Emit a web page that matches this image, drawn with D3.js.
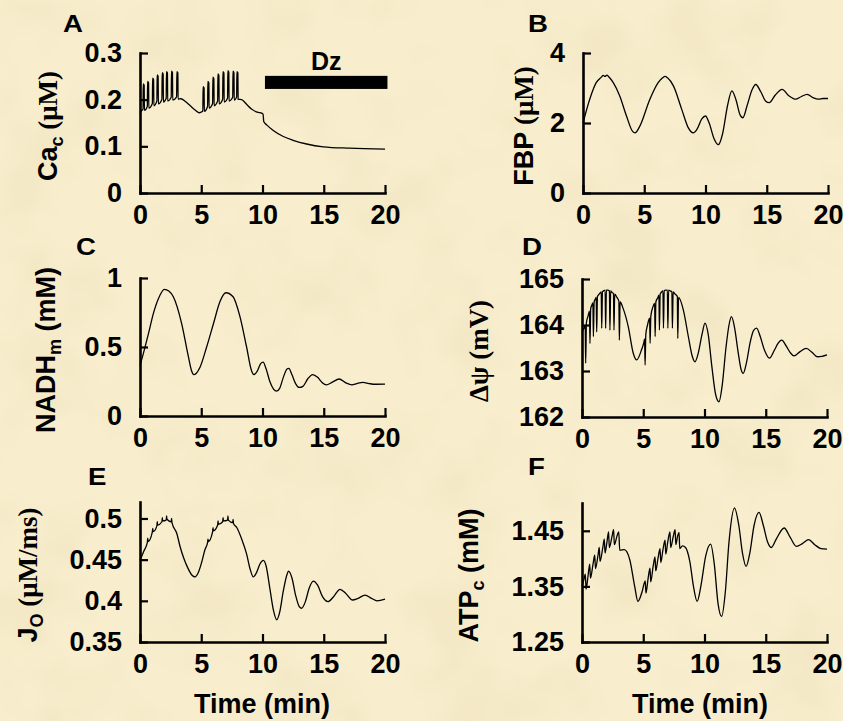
<!DOCTYPE html>
<html>
<head>
<meta charset="utf-8">
<script src="https://d3js.org/d3.v7.min.js"></script>
<style>
html, body { margin: 0; padding: 0; background: #f6ebc9; }
svg { display: block; }
text { font-family: "Liberation Sans", Arial, sans-serif; font-weight: bold; fill: #000; }
</style>
</head>
<body>
<svg id="chart" width="843" height="721"></svg>
<script>
// time axis shared by all panels (min)
var timeTicks = [0, 5, 10, 15, 20];
var timeDomain = [0, 20];

// A: cytosolic Ca (uM)
var caTicks = [0, 0.1, 0.2, 0.3];
var caDomain = [0, 0.3];
var caData = [
  [0, 0.172], [0.12, 0.176], [0.25, 0.180],
  [0.26, 0.234], [0.34, 0.231], [0.36, 0.177],
  [0.60, 0.186], [0.62, 0.239], [0.70, 0.236], [0.72, 0.182],
  [1.01, 0.192], [1.03, 0.246], [1.11, 0.243], [1.13, 0.187],
  [1.38, 0.197], [1.40, 0.253], [1.48, 0.250], [1.50, 0.191],
  [1.79, 0.201], [1.81, 0.258], [1.89, 0.255], [1.91, 0.195],
  [2.14, 0.203], [2.16, 0.260], [2.24, 0.257], [2.26, 0.197],
  [2.55, 0.205], [2.57, 0.261], [2.65, 0.258], [2.67, 0.199],
  [2.99, 0.206], [3.01, 0.260], [3.09, 0.257], [3.11, 0.201],
  [3.35, 0.202], [3.7, 0.196], [4.1, 0.187], [4.5, 0.178], [4.85, 0.172], [5.05, 0.174], [5.13, 0.176],
  [5.15, 0.228], [5.23, 0.225], [5.25, 0.175],
  [5.52, 0.186], [5.54, 0.239], [5.62, 0.236], [5.64, 0.182],
  [5.93, 0.192], [5.95, 0.248], [6.03, 0.245], [6.05, 0.187],
  [6.34, 0.197], [6.36, 0.255], [6.44, 0.252], [6.46, 0.191],
  [6.75, 0.201], [6.77, 0.260], [6.85, 0.257], [6.87, 0.195],
  [7.15, 0.203], [7.17, 0.262], [7.25, 0.259], [7.27, 0.197],
  [7.57, 0.205], [7.59, 0.261], [7.67, 0.258], [7.69, 0.199],
  [7.89, 0.206], [7.91, 0.260], [7.99, 0.257], [8.01, 0.201],
  [8.3, 0.200], [8.7, 0.190], [9.1, 0.180], [9.5, 0.174], [9.8, 0.172], [10.05, 0.169],
  [10.1, 0.153], [10.34, 0.146], [10.88, 0.134], [11.7, 0.121], [12.5, 0.113],
  [13.6, 0.105], [14.97, 0.099], [17.1, 0.096], [20, 0.094]
];
// diazoxide bar: time span and level span
var dzTime = [10.2, 20.2];
var dzLevel = [0.223, 0.251];
var dzText = 'Dz';

// B: FBP (uM)
var fbpTicks = [0, 2, 4];
var fbpDomain = [0, 4];
var fbpData = [
  [0, 2.0], [0.55, 2.68], [1.09, 3.16], [1.5, 3.31], [1.65, 3.36], [1.8, 3.33], [1.95, 3.37], [2.1, 3.32],
  [2.46, 3.16], [3.0, 2.77], [3.55, 2.2], [4.05, 1.76], [4.25, 1.72], [4.64, 1.91],
  [5.46, 2.68], [6.15, 3.16], [6.5, 3.29], [6.7, 3.33], [6.9, 3.29], [7.38, 3.06],
  [8.06, 2.39], [8.6, 1.86], [9.0, 1.72], [9.3, 1.82], [9.7, 2.12], [10.0, 2.2],
  [10.3, 2.0], [10.7, 1.55], [11.05, 1.38], [11.4, 1.7], [11.8, 2.5], [12.15, 2.92],
  [12.5, 2.65], [12.8, 2.25], [13.05, 2.15], [13.4, 2.5], [13.8, 2.95], [14.1, 3.1],
  [14.5, 2.9], [14.9, 2.63], [15.2, 2.58], [15.7, 2.8], [16.25, 2.96], [16.8, 2.78],
  [17.35, 2.68], [17.8, 2.75], [18.3, 2.82], [18.8, 2.72], [19.2, 2.68], [19.6, 2.7], [20, 2.7]
];

// C: mitochondrial NADH (mM)
var nadhTicks = [0, 0.5, 1];
var nadhDomain = [0, 1];
var nadhData = [
  [0, 0.365], [0.25, 0.445], [0.7, 0.6], [1.1, 0.745], [1.5, 0.85], [2.0, 0.917],
  [2.35, 0.905], [2.72, 0.864], [3.4, 0.67], [3.95, 0.43], [4.2, 0.33], [4.4, 0.3], [4.6, 0.31],
  [4.9, 0.353], [5.44, 0.5], [6.0, 0.67], [6.53, 0.83], [7.02, 0.893], [7.6, 0.864],
  [8.16, 0.72], [8.7, 0.5], [9.1, 0.33], [9.3, 0.3], [9.6, 0.33], [9.85, 0.38], [10.05, 0.39],
  [10.3, 0.34], [10.6, 0.25], [10.9, 0.195], [11.15, 0.18], [11.4, 0.2], [11.7, 0.28],
  [12.0, 0.34], [12.15, 0.345], [12.4, 0.3], [12.7, 0.235], [13.0, 0.207], [13.3, 0.215],
  [13.7, 0.27], [14.1, 0.3], [14.5, 0.28], [14.9, 0.24], [15.2, 0.226], [15.7, 0.245],
  [16.25, 0.268], [16.8, 0.24], [17.3, 0.226], [17.7, 0.235], [18.2, 0.243], [18.7, 0.235],
  [19.2, 0.23], [20, 0.231]
];

// D: mitochondrial membrane potential (mV)
var psiTicks = [162, 163, 164, 165];
var psiDomain = [162, 165];
var psiData = [
  [0, 163.85], [0.1, 163.9], [0.2, 163.95],
  [0.26, 163.98], [0.3, 163.17], [0.36, 164.05],
  [0.5, 164.2], [0.61, 164.3], [0.65, 163.6], [0.71, 164.35],
  [0.8, 164.43], [0.89, 164.48], [0.93, 163.75], [0.99, 164.5],
  [1.1, 164.57], [1.16, 164.6], [1.2, 163.85], [1.26, 164.62],
  [1.4, 164.67], [1.57, 164.72], [1.61, 163.93], [1.67, 164.72],
  [1.8, 164.75], [1.89, 164.76], [1.93, 163.93], [1.99, 164.76],
  [2.1, 164.76], [2.24, 164.74], [2.28, 163.89], [2.34, 164.74],
  [2.45, 164.71], [2.57, 164.68], [2.61, 163.89], [2.67, 164.67],
  [2.85, 164.6], [3.01, 164.52], [3.05, 163.67], [3.11, 164.5],
  [3.37, 164.35], [3.78, 163.96], [4.19, 163.38], [4.46, 163.24], [4.86, 163.46], [5.05, 163.62],
  [5.11, 163.7], [5.15, 163.13], [5.21, 163.8],
  [5.35, 164.0], [5.52, 164.15], [5.56, 163.6], [5.62, 164.2],
  [5.8, 164.4], [5.93, 164.47], [5.97, 163.75], [6.03, 164.5],
  [6.2, 164.6], [6.28, 164.65], [6.32, 163.89], [6.38, 164.67],
  [6.5, 164.72], [6.61, 164.74], [6.65, 163.93], [6.71, 164.75],
  [6.85, 164.76], [6.97, 164.76], [7.01, 163.93], [7.07, 164.76],
  [7.2, 164.74], [7.34, 164.72], [7.38, 163.93], [7.44, 164.72],
  [7.6, 164.67], [7.78, 164.62], [7.82, 163.71], [7.88, 164.6],
  [8.27, 164.33], [8.68, 163.75], [9.0, 163.32], [9.22, 163.2], [9.5, 163.4], [9.8, 163.8],
  [10.04, 164.04], [10.3, 163.8], [10.6, 163.1], [10.9, 162.5], [11.18, 162.33], [11.45, 162.7],
  [11.75, 163.5], [12.0, 164.0], [12.2, 164.18], [12.45, 163.95], [12.75, 163.4], [13.0, 163.02],
  [13.16, 162.95], [13.4, 163.15], [13.75, 163.65], [14.0, 163.88], [14.25, 163.93], [14.55, 163.75],
  [14.9, 163.45], [15.3, 163.28], [15.7, 163.45], [16.0, 163.6], [16.3, 163.67], [16.7, 163.53],
  [17.0, 163.4], [17.3, 163.33], [17.8, 163.42], [18.3, 163.49], [18.8, 163.4], [19.2, 163.31],
  [19.6, 163.32], [20, 163.35]
];

// E: oxygen consumption (uM/ms)
var joTicks = [0.35, 0.4, 0.45, 0.5];
var joDomain = [0.35, 0.52];
var joData = [
  [0, 0.449], [0.3, 0.46], [0.6, 0.471], [0.63, 0.476], [0.66, 0.472],
  [1.0, 0.483], [1.04, 0.488], [1.07, 0.484],
  [1.38, 0.491], [1.41, 0.496], [1.44, 0.492],
  [1.79, 0.496], [1.82, 0.501], [1.85, 0.497],
  [2.14, 0.498], [2.17, 0.503], [2.2, 0.499],
  [2.55, 0.496], [2.58, 0.5], [2.61, 0.495],
  [3.0, 0.482], [3.27, 0.466], [3.9, 0.44], [4.25, 0.431], [4.49, 0.429], [4.75, 0.434],
  [5.0, 0.445], [5.3, 0.462], [5.52, 0.471], [5.55, 0.475], [5.58, 0.472],
  [5.93, 0.484], [5.96, 0.489], [5.99, 0.485],
  [6.34, 0.492], [6.37, 0.497], [6.4, 0.493],
  [6.75, 0.496], [6.78, 0.501], [6.81, 0.497],
  [7.15, 0.498], [7.18, 0.503], [7.21, 0.498],
  [7.57, 0.495], [7.6, 0.499], [7.63, 0.494],
  [7.9, 0.489], [8.3, 0.475], [8.7, 0.457], [9.0, 0.438], [9.25, 0.429], [9.5, 0.434],
  [9.8, 0.445], [10.07, 0.449], [10.3, 0.442], [10.6, 0.415], [10.9, 0.388], [11.16, 0.377],
  [11.4, 0.386], [11.7, 0.412], [12.0, 0.432], [12.12, 0.436], [12.4, 0.428], [12.7, 0.407],
  [13.0, 0.393], [13.2, 0.391], [13.5, 0.399], [13.8, 0.415], [14.15, 0.424], [14.5, 0.419],
  [14.9, 0.405], [15.35, 0.399], [15.8, 0.405], [16.33, 0.414], [16.8, 0.409], [17.35, 0.401],
  [17.8, 0.403], [18.37, 0.407], [18.9, 0.403], [19.35, 0.4], [20, 0.402]
];

// F: cytosolic ATP (mM)
var atpTicks = [1.25, 1.35, 1.45];
var atpDomain = [1.25, 1.5];
var atpData = [
  [0, 1.35], [0.15, 1.362], [0.27, 1.372], [0.33, 1.345], [0.5, 1.37], [0.63, 1.39], [0.69, 1.365],
  [0.9, 1.39], [1.04, 1.406], [1.1, 1.382], [1.3, 1.405], [1.41, 1.42], [1.47, 1.395],
  [1.7, 1.42], [1.82, 1.435], [1.88, 1.41], [2.05, 1.432], [2.17, 1.448], [2.23, 1.42],
  [2.45, 1.44], [2.58, 1.452], [2.64, 1.425], [2.85, 1.44], [3.0, 1.448], [3.08, 1.415],
  [3.45, 1.416], [3.9, 1.398], [4.3, 1.35], [4.57, 1.323], [4.9, 1.34],
  [5.16, 1.36], [5.22, 1.338], [5.4, 1.365], [5.55, 1.383], [5.61, 1.358], [5.8, 1.385],
  [5.96, 1.403], [6.02, 1.378], [6.2, 1.4], [6.37, 1.418], [6.43, 1.393], [6.6, 1.415],
  [6.78, 1.433], [6.84, 1.408], [7.0, 1.43], [7.18, 1.448], [7.24, 1.42], [7.45, 1.44],
  [7.6, 1.452], [7.66, 1.425], [7.8, 1.44], [7.92, 1.447], [7.98, 1.418],
  [8.2, 1.423], [8.45, 1.42], [8.8, 1.395], [9.1, 1.35], [9.4, 1.323], [9.7, 1.35],
  [10.1, 1.405], [10.5, 1.426], [10.8, 1.39], [11.1, 1.32], [11.4, 1.296], [11.7, 1.34],
  [12.0, 1.43], [12.45, 1.491], [12.8, 1.46], [13.1, 1.41], [13.4, 1.386], [13.7, 1.41],
  [14.05, 1.46], [14.45, 1.483], [14.8, 1.46], [15.15, 1.43], [15.45, 1.42], [15.9, 1.437],
  [16.5, 1.455], [17.0, 1.438], [17.5, 1.422], [18.0, 1.427], [18.5, 1.434], [19.0, 1.425],
  [19.5, 1.418], [20, 1.417]
];

// axis titles: [text, style]
var caLabel = [['Ca', 'n'], ['c', 'sub'], [' (\u03bcM)', 'serif']];
var fbpLabel = [['FBP', 'n'], [' (\u03bcM)', 'serif']];
var nadhLabel = [['NADH', 'n'], ['m', 'sub'], [' (mM)', 'n']];
var psiLabel = [['\u0394\u03c8 (mV)', 'serif']];
var joLabel = [['J', 'n'], ['O', 'sub'], [' (\u03bcM/ms)', 'serif']];
var atpLabel = [['ATP', 'n'], ['c', 'sub'], [' (mM)', 'n']];
var timeLabel = 'Time (min)';

var svg = d3.select('#chart');

// parchment background
var defs = svg.append('defs');
var filt = defs.append('filter').attr('id', 'paper').attr('x', 0).attr('y', 0).attr('width', '100%').attr('height', '100%');
filt.append('feTurbulence').attr('type', 'fractalNoise').attr('baseFrequency', '0.012').attr('numOctaves', 3).attr('seed', 7);
filt.append('feColorMatrix').attr('type', 'matrix')
    .attr('values', '0 0 0 0 0.80  0 0 0 0 0.68  0 0 0 0 0.45  0.8 0 0 0 -0.36');
svg.append('rect').attr('width', 843).attr('height', 721).attr('fill', '#f8eecd');
svg.append('rect').attr('width', 843).attr('height', 721).attr('filter', 'url(#paper)');

var panels = [
    {letter: 'A', data: caData, domain: caDomain, ticks: caTicks, left: 140, bottom: 193, h: 140, label: caLabel, labelX: 57, letterX: 63, letterY: 32},
    {letter: 'B', data: fbpData, domain: fbpDomain, ticks: fbpTicks, left: 583, bottom: 193, h: 140, label: fbpLabel, labelX: 533, letterX: 528, letterY: 32},
    {letter: 'C', data: nadhData, domain: nadhDomain, ticks: nadhTicks, left: 140, bottom: 416, h: 138, label: nadhLabel, labelX: 55, letterX: 76, letterY: 255},
    {letter: 'D', data: psiData, domain: psiDomain, ticks: psiTicks, left: 582, bottom: 417, h: 138, label: psiLabel, labelX: 488, letterX: 522, letterY: 255},
    {letter: 'E', data: joData, domain: joDomain, ticks: joTicks, left: 140, bottom: 642, h: 140, label: joLabel, labelX: 37, letterX: 88, letterY: 485, time: 262},
    {letter: 'F', data: atpData, domain: atpDomain, ticks: atpTicks, left: 582, bottom: 642, h: 139, label: atpLabel, labelX: 478, letterX: 528, letterY: 475, time: 700}
];

function styleAxis(g) {
    g.attr('font-family', null).attr('font-size', null);
    g.select('.domain').attr('stroke-width', 2.6).attr('stroke-linecap', 'square');
    g.selectAll('.tick line').attr('stroke-width', 2.2);
    g.selectAll('.tick text').style('font-size', '27px');
}

function drawPanel(p) {
    var x = d3.scaleLinear().domain(timeDomain).range([p.left, p.left + 245]);
    var y = d3.scaleLinear().domain(p.domain).range([p.bottom, p.bottom - p.h]);
    var g = svg.append('g');

    // the trace
    var line = d3.line()
        .x(function(d) { return x(d[0]); })
        .y(function(d) { return y(d[1]); })
        .curve(d3.curveMonotoneX);
    g.append('path').datum(p.data)
        .attr('d', line).attr('fill', 'none')
        .attr('stroke', '#000').attr('stroke-width', 1.3).attr('stroke-linejoin', 'round');

    // axes, ticks pointing inwards
    g.append('g').attr('transform', 'translate(0,' + p.bottom + ')')
        .call(d3.axisBottom(x).tickValues(timeTicks).tickSize(-8).tickSizeOuter(0).tickPadding(12))
        .call(styleAxis);
    g.append('g').attr('transform', 'translate(' + p.left + ',0)')
        .call(d3.axisLeft(y).tickValues(p.ticks).tickSize(-8).tickSizeOuter(0).tickPadding(18)
            .tickFormat(function(d) { return String(+d.toFixed(2)); }))
        .call(styleAxis);

    // y title, rotated
    var cy = p.bottom - p.h / 2 + 3;
    var t = g.append('text')
        .attr('transform', 'translate(' + p.labelX + ',' + cy + ') rotate(-90)')
        .attr('text-anchor', 'middle').style('font-size', '27px');
    var wasSub = false;
    p.label.forEach(function(part) {
        var ts = t.append('tspan').text(part[0]);
        if (part[1] === 'sub') {
            ts.attr('dy', 6).style('font-size', '18px');
            wasSub = true;
        } else {
            if (wasSub) ts.attr('dy', -6);
            wasSub = false;
            if (part[1] === 'serif') ts.style('font-family', '"Liberation Serif", "Times New Roman", serif');
        }
    });

    // panel letter
    g.append('text')
        .attr('transform', 'translate(' + p.letterX + ',' + p.letterY + ') scale(1.2,1)')
        .style('font-size', '23px').text(p.letter);

    if (p.time) {
        g.append('text').attr('x', p.time).attr('y', 713)
            .attr('text-anchor', 'middle').style('font-size', '27px').text(timeLabel);
    }

    // diazoxide bar on panel A
    if (p.letter === 'A') {
        g.append('rect')
            .attr('x', x(dzTime[0])).attr('width', x(dzTime[1]) - x(dzTime[0]))
            .attr('y', y(dzLevel[1])).attr('height', y(dzLevel[0]) - y(dzLevel[1]))
            .attr('fill', '#000');
        g.append('text').attr('x', x((dzTime[0] + dzTime[1]) / 2)).attr('y', y(0.264))
            .attr('text-anchor', 'middle').style('font-size', '25px')
            .text(dzText);
    }
}

panels.forEach(drawPanel);
</script>
</body>
</html>
